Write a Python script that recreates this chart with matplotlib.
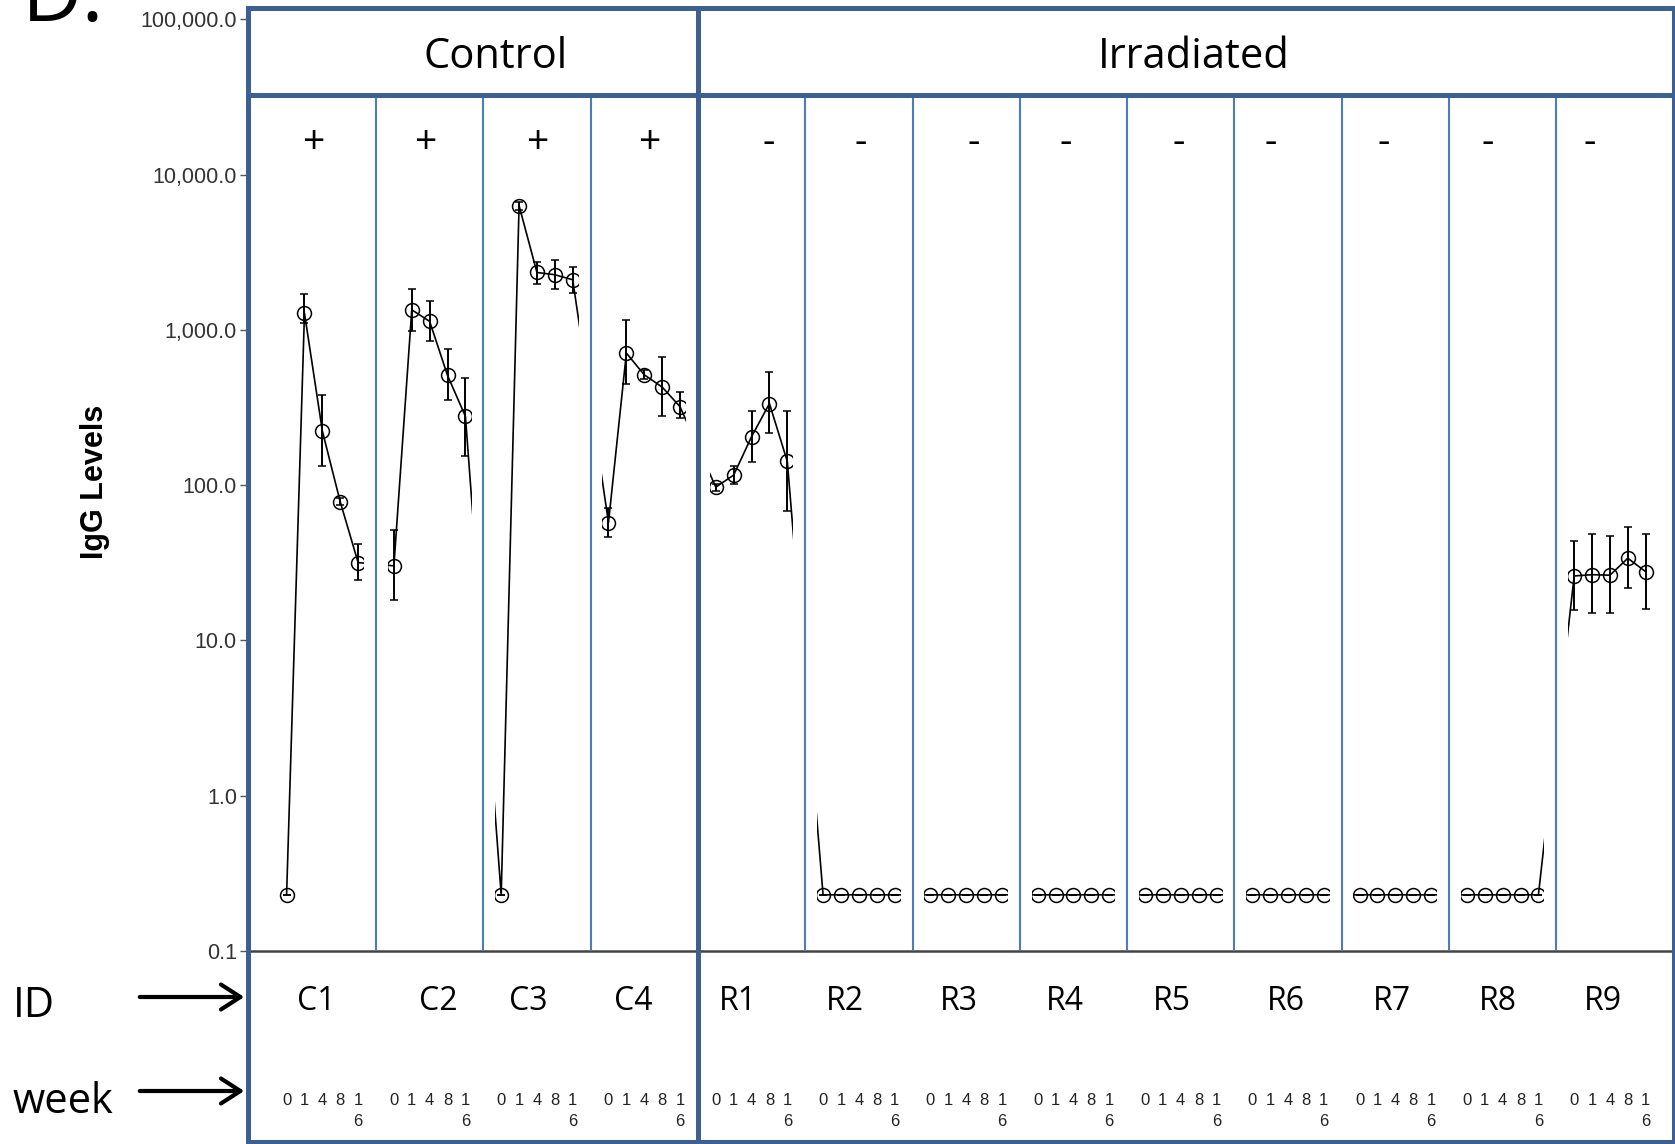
import matplotlib
matplotlib.use('Agg')
import matplotlib.pyplot as plt
from matplotlib.patches import Rectangle, FancyArrowPatch
from matplotlib.lines import Line2D
from matplotlib.ticker import NullLocator

# ---- datos ----
animal_ids = ['C1', 'C2', 'C3', 'C4', 'R1', 'R2', 'R3', 'R4', 'R5', 'R6', 'R7', 'R8', 'R9']
signos = ['+', '+', '+', '+', '-', '-', '-', '-', '-', '-', '-', '-', '-']
week_labels = ['0', '1', '4', '8', '1\n6']   # semanas 0, 1, 4, 8, 16

# niveles IgG (media) por animal, semanas 0,1,4,8,16
igg_mean = [
    [0.23, 1280, 223, 78, 31.7],      # C1
    [30.2, 1345, 1133, 508, 277],     # C2
    [0.23, 6300, 2340, 2262, 2100],   # C3
    [57.4, 708, 513, 428, 320],       # C4
    [97, 116, 205, 335, 142],         # R1
    [0.23, 0.23, 0.23, 0.23, 0.23],   # R2
    [0.23, 0.23, 0.23, 0.23, 0.23],   # R3
    [0.23, 0.23, 0.23, 0.23, 0.23],   # R4
    [0.23, 0.23, 0.23, 0.23, 0.23],   # R5
    [0.23, 0.23, 0.23, 0.23, 0.23],   # R6
    [0.23, 0.23, 0.23, 0.23, 0.23],   # R7
    [0.23, 0.23, 0.23, 0.23, 0.23],   # R8
    [26.0, 26.5, 26.3, 33.8, 27.7],   # R9
]
# limites inferior / superior de las barras de error
igg_low = [
    [0.23, 1110, 133, 74, 24.5],
    [18.2, 989, 853, 354, 153],
    [0.23, 5900, 1977, 1828, 1738],
    [46.2, 447, 480, 277, 269],
    [92, 102, 141, 216, 68.5],
    [0.23, 0.23, 0.23, 0.23, 0.23],
    [0.23, 0.23, 0.23, 0.23, 0.23],
    [0.23, 0.23, 0.23, 0.23, 0.23],
    [0.23, 0.23, 0.23, 0.23, 0.23],
    [0.23, 0.23, 0.23, 0.23, 0.23],
    [0.23, 0.23, 0.23, 0.23, 0.23],
    [0.23, 0.23, 0.23, 0.23, 0.23],
    [15.7, 15.1, 15.1, 21.7, 16.0],
]
igg_high = [
    [0.23, 1700, 381, 82, 41.6],
    [51.5, 1830, 1537, 755, 493],
    [0.23, 6700, 2716, 2823, 2535],
    [71, 1159, 550, 667, 395],
    [102, 133, 298, 534, 298],
    [0.23, 0.23, 0.23, 0.23, 0.23],
    [0.23, 0.23, 0.23, 0.23, 0.23],
    [0.23, 0.23, 0.23, 0.23, 0.23],
    [0.23, 0.23, 0.23, 0.23, 0.23],
    [0.23, 0.23, 0.23, 0.23, 0.23],
    [0.23, 0.23, 0.23, 0.23, 0.23],
    [0.23, 0.23, 0.23, 0.23, 0.23],
    [43.7, 48.5, 47.1, 53.6, 48.5],
]
y_ticks = [0.1, 1, 10, 100, 1000, 10000, 100000]

# ---- layout (pixeles de la figura 1675x1144) ----
W, H = 1675, 1144
def fx(px):
    return px / W
def fy(py):
    return 1 - py / H

azul = '#3b6091'
azul_claro = '#4a7ebb'
caja_izq, caja_der, caja_sup, caja_inf = 248, 1674, 8, 1142
linea_header = 95
div_control = 697.7
eje_sup, eje_inf = 19.2, 951

id_x = [316, 438, 528, 633, 738, 845, 959, 1065, 1172, 1286, 1392, 1498, 1603]
signo_x = [314, 426, 538, 650, 769, 861, 974, 1066, 1179, 1271, 1384, 1488, 1590]

fig = plt.figure(figsize=(W / 100, H / 100), dpi=100)
ax = fig.add_axes([fx(caja_izq), fy(eje_inf), fx(caja_der) - fx(caja_izq), fy(eje_sup) - fy(eje_inf)])

n = len(animal_ids)
xs, ys, lo, hi = [], [], [], []
for p in range(n):
    for j in range(5):
        xs.append(p + (j + 1) / 6)
        ys.append(igg_mean[p][j])
        lo.append(igg_mean[p][j] - igg_low[p][j])
        hi.append(igg_high[p][j] - igg_mean[p][j])

ax.plot(xs, ys, color='black', lw=1.2, zorder=2)
ax.errorbar(xs, ys, yerr=[lo, hi], fmt='o', mfc='none', mec='black', ms=10, mew=1.1,
            ecolor='black', elinewidth=1.4, capsize=3.2, capthick=1.3, zorder=2)

# huecos blancos entre paneles y separadores
for b in range(1, n):
    ax.axvspan(b - 0.11, b + 0.11, color='white', lw=0, zorder=2.3)
    if b != 4:
        ax.axvline(b, ymin=0, ymax=(eje_inf - linea_header) / (eje_inf - eje_sup),
                   color=azul_claro, lw=1.5, zorder=3)

ax.set_yscale('log')
ax.set_ylim(0.1, 1e5)
ax.set_xlim(-0.193, 13.097)
ax.set_yticks(y_ticks)
ax.set_yticklabels([f'{v:,.1f}' for v in y_ticks], fontsize=15.5, color='#333333',
                   fontfamily=['Liberation Sans Narrow', 'Liberation Sans'])
ax.yaxis.set_minor_locator(NullLocator())
ax.tick_params(axis='y', length=6, width=1, color='#555555', pad=2)

ax.set_xticks(xs)
ax.set_xticklabels(week_labels * n, fontsize=12, color='#222222', fontfamily='Liberation Sans')
for t in ax.get_xticklabels():
    t.set_linespacing(1.55)
ax.tick_params(axis='x', which='major', length=0, pad=102)
ax.set_xticks(range(1, n), minor=True)
ax.tick_params(axis='x', which='minor', direction='in', length=4, width=1.5, color='#333333')

for s in ['top', 'right', 'left']:
    ax.spines[s].set_visible(False)
ax.spines['bottom'].set_color('#444444')
ax.spines['bottom'].set_linewidth(1.8)

fig.text(fx(95), fy(482), 'IgG Levels', fontsize=22, fontweight='bold', rotation=90,
         ha='center', va='center', family='Liberation Sans')

# caja azul
fig.add_artist(Rectangle((fx(caja_izq), fy(caja_inf)), fx(caja_der) - fx(caja_izq), fy(caja_sup) - fy(caja_inf),
                         fill=False, ec=azul, lw=3.6, transform=fig.transFigure))
fig.add_artist(Line2D([fx(caja_izq), fx(caja_der)], [fy(linea_header)] * 2, color=azul, lw=3.6,
                      transform=fig.transFigure))
fig.add_artist(Line2D([fx(div_control)] * 2, [fy(caja_sup), fy(caja_inf)], color=azul, lw=3.6,
                      transform=fig.transFigure))

fuente = 'Open Sans'
fig.text(fx(496), fy(57), 'Control', fontsize=30, ha='center', va='center', family=fuente)
fig.text(fx(1194), fy(57), 'Irradiated', fontsize=30, ha='center', va='center', family=fuente)

for x, s in zip(signo_x, signos):
    fig.text(fx(x), fy(143), s, fontsize=28, ha='center', va='center', family=fuente)
for x, s in zip(id_x, animal_ids):
    fig.text(fx(x), fy(1001), s, fontsize=23, ha='center', va='center', family=fuente)

fig.text(fx(13), fy(1006), 'ID', fontsize=30, ha='left', va='center', family=fuente)
fig.text(fx(13), fy(1102), 'week', fontsize=30, ha='left', va='center', family=fuente)
for yy in [997, 1091]:
    fig.add_artist(FancyArrowPatch((fx(137), fy(yy)), (fx(247), fy(yy)), transform=fig.transFigure,
                                   arrowstyle='->,head_length=0.7,head_width=0.45', mutation_scale=20,
                                   lw=3, color='black'))

fig.text(fx(22), fy(21), 'D.', fontsize=60, ha='left', va='baseline', family=fuente)

fig.savefig('out.png', dpi=100, facecolor='white')
